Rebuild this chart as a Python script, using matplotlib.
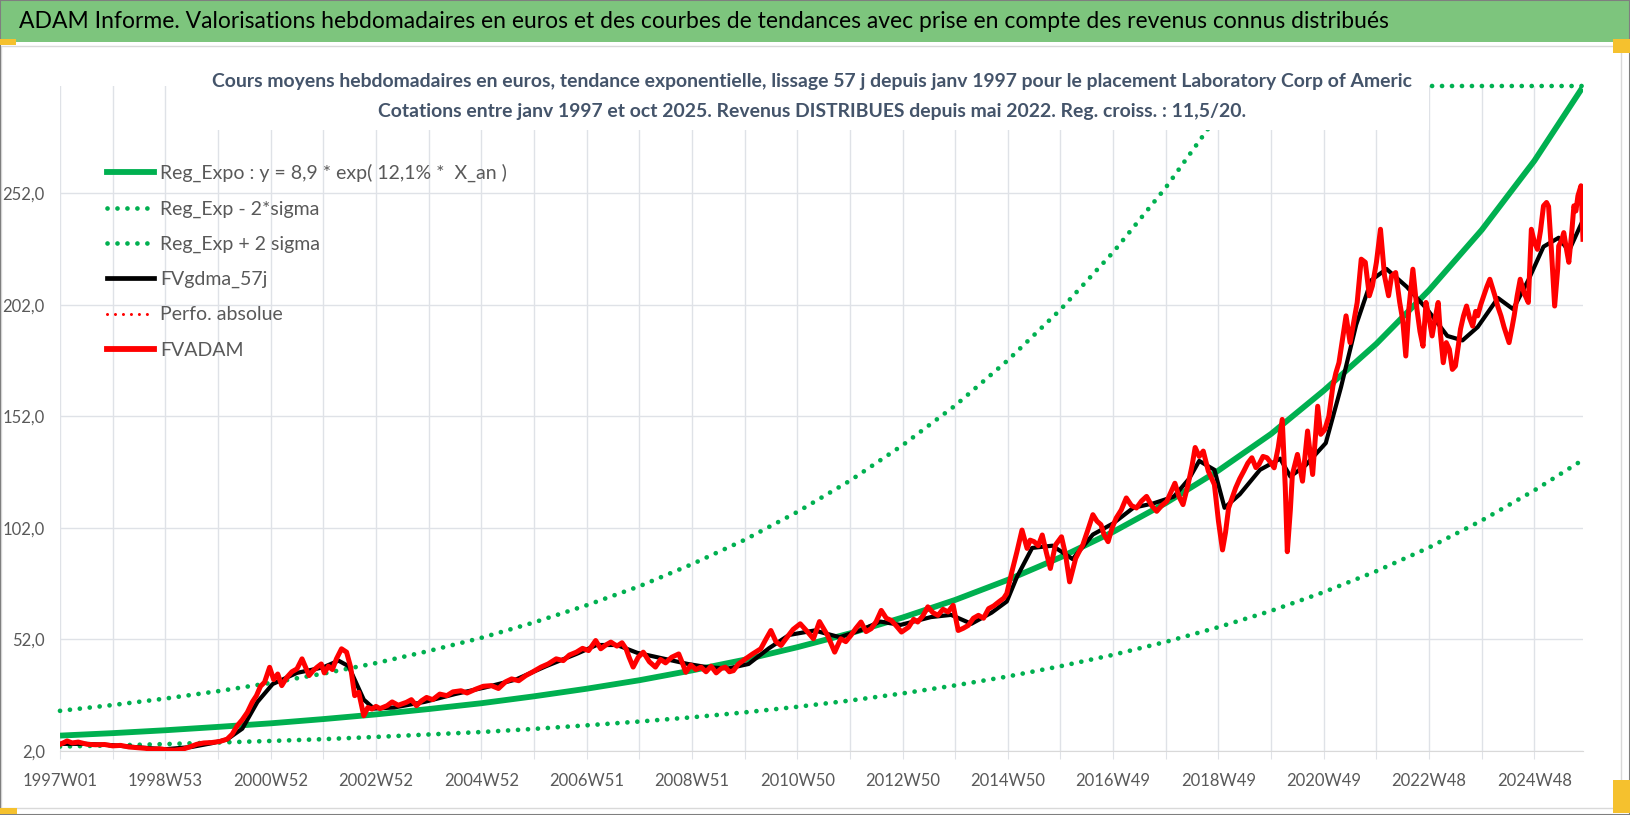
import numpy as np
import matplotlib
matplotlib.use("Agg")
import matplotlib.pyplot as plt
import matplotlib.patches as patches
from matplotlib.lines import Line2D

# ---- data ----
title = ("ADAM Informe. Valorisations hebdomadaires en euros et des courbes de "
         "tendances avec prise en compte des revenus connus distribués")
subtitle_1 = ("Cours moyens hebdomadaires en euros, tendance exponentielle, lissage 57 j "
              "depuis janv 1997 pour le placement Laboratory Corp of Americ")
subtitle_2 = ("Cotations entre janv 1997 et oct 2025. Revenus DISTRIBUES depuis mai 2022. "
              "Reg. croiss. : 11,5/20.")

week_labels = ["1997W01", "1998W53", "2000W52", "2002W52", "2004W52", "2006W51",
               "2008W51", "2010W50", "2012W50", "2014W50", "2016W49", "2018W49",
               "2020W49", "2022W48", "2024W48"]
last_week = 1504

# trend curves, one value per year (week 0, 52, ...), last one at the final week
reg_expo = [8.9, 10.0, 11.3, 12.8, 14.4, 16.3, 18.4, 20.8, 23.4, 26.5, 29.9, 33.7,
            38.1, 42.9, 48.5, 54.7, 61.8, 69.7, 78.7, 88.8, 100.2, 113.1, 127.7,
            144.1, 163.5, 184.5, 208.5, 235.5, 266.5, 299.0]
reg_low = [4.0, 4.5, 5.1, 5.8, 6.5, 7.3, 8.3, 9.4, 10.5, 11.9, 13.5, 15.2, 17.1,
           19.3, 21.8, 24.6, 27.8, 31.4, 35.4, 40.0, 45.1, 50.9, 57.5, 64.8, 73.2,
           82.6, 93.2, 105.3, 118.8, 132.2]
reg_high = [20.0, 22.6, 25.5, 28.8, 32.5, 36.7, 41.4, 46.8, 52.7, 59.6, 67.3, 75.8,
            85.7, 96.6, 109.1, 123.1, 139.0, 156.8, 177.1, 199.8, 225.5, 254.5,
            287.3, 300, 300, 300, 300, 300, 300, 300]

# FVADAM weekly price (week index, value)
fv_week = [0, 4, 7, 12, 18, 27, 35, 44, 52, 60, 68, 76, 84, 91, 98, 106, 113, 121,
           128, 135, 142, 150, 158, 165, 170, 175, 180, 185, 190, 194, 198, 202, 207,
           211, 215, 219, 224, 229, 234, 239, 243, 246, 250, 254, 258, 261, 265, 269,
           273, 278, 283, 287, 291, 295, 300, 304, 308, 312, 316, 323, 328, 334, 342,
           347, 352, 357, 362, 368, 375, 382, 388, 396, 402, 411, 418, 426, 433, 440,
           446, 453, 460, 467, 475, 482, 490, 497, 503, 510, 516, 522, 529, 534, 539,
           544, 550, 555, 559, 562, 566, 571, 576, 582, 588, 593, 598, 604, 611, 615,
           618, 623, 628, 633, 638, 643, 648, 653, 657, 661, 665, 670, 677, 684, 692,
           697, 702, 707, 712, 718, 724, 731, 738, 744, 750, 758, 765, 771, 776, 781,
           786, 791, 796, 801, 806, 811, 816, 821, 826, 831, 838, 843, 847, 852, 857,
           862, 867, 872, 877, 882, 887, 892, 897, 902, 907, 912, 917, 922, 927, 932,
           935, 940, 945, 950, 955, 958, 962, 966, 970, 974, 978, 983, 989, 993, 997,
           1003, 1006, 1010, 1015, 1020, 1024, 1028, 1031, 1035, 1039, 1043, 1048,
           1053, 1058, 1063, 1068, 1073, 1078, 1083, 1088, 1093, 1097, 1101, 1105,
           1109, 1114, 1118, 1121, 1125, 1129, 1134, 1140, 1144, 1148, 1151, 1154,
           1158, 1161, 1165, 1169, 1173, 1177, 1181, 1184, 1188, 1192, 1196, 1199,
           1203, 1207, 1210, 1212, 1215, 1217, 1222, 1227, 1232, 1237, 1242, 1245,
           1249, 1253, 1257, 1260, 1263, 1266, 1270, 1274, 1278, 1281, 1285, 1289,
           1293, 1296, 1300, 1304, 1308, 1312, 1315, 1319, 1323, 1326, 1329, 1332,
           1336, 1340, 1343, 1346, 1349, 1352, 1355, 1358, 1361, 1363, 1366, 1369,
           1372, 1375, 1378, 1381, 1383, 1386, 1389, 1392, 1395, 1398, 1400, 1403,
           1406, 1409, 1412, 1415, 1417, 1420, 1423, 1426, 1431, 1434, 1436, 1439,
           1442, 1446, 1450, 1453, 1456, 1459, 1462, 1465, 1468, 1470, 1473, 1476,
           1479, 1480, 1483, 1485, 1488, 1490, 1493, 1495, 1497, 1499, 1502, 1504]
fv_value = [5.0, 5.8, 6.5, 5.6, 6.0, 5.0, 4.8, 4.9, 4.3, 4.5, 3.8, 3.5, 3.2, 2.8, 3.0,
            2.5, 2.4, 2.8, 3.8, 5.0, 5.6, 5.8, 6.3, 7.3, 9.5, 13.3, 16.0, 19.3, 24.0,
            26.8, 31.0, 32.8, 39.5, 34.0, 36.5, 31.3, 35.0, 37.5, 38.8, 43.3, 39.0,
            35.8, 38.0, 39.6, 41.0, 37.0, 40.0, 38.5, 43.3, 47.8, 46.3, 39.6, 26.8,
            28.3, 17.8, 21.5, 20.8, 22.0, 21.0, 22.3, 24.0, 22.5, 23.8, 25.0, 22.3,
            24.5, 26.0, 25.0, 27.5, 26.8, 28.5, 29.0, 28.0, 29.8, 31.0, 31.3, 30.0,
            33.0, 34.3, 33.5, 35.8, 37.5, 39.6, 41.0, 43.3, 42.5, 45.0, 46.3, 48.0,
            47.0, 51.5, 47.8, 49.5, 50.8, 49.0, 50.5, 47.8, 44.0, 39.6, 44.0, 46.3,
            42.0, 39.6, 43.0, 41.5, 44.0, 45.5, 41.0, 37.3, 40.5, 38.5, 39.6, 37.5,
            40.0, 37.0, 39.0, 39.6, 37.5, 38.0, 41.0, 43.3, 45.5, 47.8, 52.0, 56.0,
            51.0, 49.3, 53.0, 56.5, 59.0, 55.5, 52.3, 60.0, 53.8, 46.3, 52.3, 51.0,
            53.8, 57.0, 59.8, 55.5, 56.8, 60.0, 65.0, 61.5, 60.5, 58.0, 55.3, 57.5,
            61.0, 59.8, 62.5, 66.6, 64.0, 62.8, 65.5, 64.3, 67.3, 56.0, 57.0, 58.3,
            61.5, 62.8, 61.5, 65.8, 67.0, 68.8, 70.5, 72.6, 82.3, 91.3, 101.0, 92.8,
            96.5, 95.8, 94.0, 98.8, 91.0, 83.8, 94.3, 98.0, 90.0, 77.8, 88.3, 91.0,
            94.3, 101.0, 107.9, 105.0, 103.4, 99.0, 95.8, 102.0, 106.4, 110.0, 115.4,
            112.0, 110.9, 114.0, 116.1, 112.0, 109.4, 112.0, 113.9, 118.0, 122.0,
            116.0, 112.4, 121.4, 130.0, 138.0, 134.0, 136.4, 127.4, 121.4, 105.0,
            92.1, 100.0, 110.9, 116.0, 119.9, 124.0, 127.4, 131.0, 133.4, 129.0,
            130.4, 134.0, 133.4, 131.0, 128.9, 138.0, 150.6, 120.0, 91.3, 110.0,
            125.9, 134.9, 122.9, 145.4, 125.9, 156.5, 143.9, 146.0, 152.0, 165.5,
            171.5, 176.0, 185.0, 197.0, 185.0, 195.4, 203.0, 222.4, 221.0, 206.0,
            210.4, 221.0, 235.8, 214.9, 206.0, 214.9, 216.4, 203.0, 195.0, 179.0,
            200.0, 217.9, 200.0, 190.0, 183.4, 203.0, 196.0, 188.0, 196.0, 203.0,
            190.0, 176.0, 185.0, 182.0, 173.0, 174.5, 184.0, 191.0, 197.0, 201.4,
            196.0, 192.4, 199.0, 197.0, 202.0, 206.0, 210.0, 213.4, 209.0, 206.0,
            201.0, 197.0, 192.0, 185.0, 192.0, 197.0, 206.0, 213.4, 207.0, 203.0,
            235.8, 230.0, 226.8, 235.0, 246.3, 247.8, 246.0, 225.0, 201.4, 218.0,
            228.3, 231.0, 234.3, 226.0, 221.0, 235.0, 246.3, 244.0, 250.8, 255.3,
            231.3]

# FVgdma_57j smoothed line (week index, value)
gdma_week = [0, 26, 52, 78, 104, 130, 150, 165, 180, 195, 210, 234, 260, 275, 285,
             292, 300, 310, 330, 360, 390, 420, 450, 480, 510, 530, 550, 570, 600,
             620, 640, 660, 680, 700, 720, 745, 770, 790, 810, 830, 860, 880, 900,
             920, 935, 945, 960, 980, 1000, 1020, 1040, 1060, 1080, 1100, 1115, 1125,
             1140, 1150, 1165, 1185, 1205, 1215, 1230, 1250, 1265, 1280, 1295, 1310,
             1330, 1350, 1370, 1385, 1400, 1420, 1435, 1450, 1465, 1480, 1490, 1504]
gdma_value = [5.2, 5.2, 4.6, 3.6, 2.8, 3.8, 5.5, 7.2, 12.0, 24.0, 32.0, 37.0, 39.5,
              42.5, 40.0, 33.0, 25.0, 21.0, 21.5, 24.0, 27.5, 30.5, 34.0, 40.0, 45.5,
              49.5, 49.5, 46.0, 43.0, 41.0, 39.5, 39.0, 41.0, 48.0, 54.0, 56.0, 53.0,
              56.0, 60.0, 58.5, 62.0, 63.0, 59.0, 64.0, 69.0, 80.0, 93.0, 94.0, 88.0,
              99.0, 104.0, 111.0, 113.0, 116.0, 124.0, 132.0, 128.0, 111.0, 117.0,
              128.0, 133.0, 125.0, 130.0, 140.0, 165.0, 193.0, 213.0, 218.0, 210.0,
              200.0, 188.0, 186.0, 192.0, 205.0, 200.0, 213.0, 228.0, 232.0, 226.0,
              240.0]

# ---- style ----
plt.rcParams["font.family"] = ["Lato", "DejaVu Sans"]

GREEN = "#00b050"
GRID = "#dfe2e7"
TXT = "#595959"
W, H = 1630, 815

fig = plt.figure(figsize=(W / 100, H / 100), dpi=100)
fig.patch.set_facecolor("white")
renderer = fig.canvas.get_renderer()


def fit_width(txt, target_px):
    # scale the font so the text spans the same width as in the reference
    w = txt.get_window_extent(renderer).width
    txt.set_fontsize(txt.get_fontsize() * target_px / w)
    return txt.get_fontsize()


# title bar and frame
fig.add_artist(patches.Rectangle((0, 1 - 42 / H), 1, 42 / H, transform=fig.transFigure,
                                 facecolor="#7dc57d", edgecolor="none", zorder=0))
fig.add_artist(patches.Rectangle((1 / W, 1 - 808 / H), 1620 / W, 762 / H,
                                 transform=fig.transFigure, facecolor="none",
                                 edgecolor="#d9d9d9", lw=1, zorder=0))
fig.add_artist(patches.Rectangle((0, 0), 1, 1, transform=fig.transFigure,
                                 facecolor="none", edgecolor="#7f7f7f", lw=1.5, zorder=5))
for (x0, y0, w, h) in [(0, 39, 16, 6), (1613, 39, 17, 14), (0, 808, 17, 6), (1613, 780, 17, 33)]:
    fig.add_artist(patches.Rectangle((x0 / W, 1 - (y0 + h) / H), w / W, h / H,
                                     transform=fig.transFigure, facecolor="#f5c12e",
                                     edgecolor="none", zorder=6))
t_title = fig.text(19 / W, 1 - 22 / H, title, fontsize=17, color="black",
                   ha="left", va="center")
fit_width(t_title, 1367)

ax = fig.add_axes([60 / W, (H - 751) / H, 1523 / W, 665 / H])
ax.set_xlim(0, last_week)
ax.set_ylim(2, 300)

trend_week = list(np.arange(len(reg_expo) - 1) * 52) + [last_week - 1]

dot = (0, (0.01, 2.1))
ax.plot(trend_week, reg_low, color=GREEN, lw=3.4, linestyle=dot, dash_capstyle="round", zorder=2)
ax.plot(trend_week, reg_high, color=GREEN, lw=3.4, linestyle=dot, dash_capstyle="round",
        zorder=2, clip_on=False)
ax.plot(trend_week, reg_expo, color=GREEN, lw=4.2, solid_capstyle="butt", zorder=3)
ax.plot(gdma_week, gdma_value, color="black", lw=3, zorder=4)
ax.plot(fv_week, fv_value, color="#ff0000", lw=3.6, solid_joinstyle="round", zorder=5)

# axes
grid_weeks = np.arange(0, last_week - 40, 52)
ax.set_xticks(grid_weeks)
ax.set_xticklabels([week_labels[i // 2] if i % 2 == 0 else "" for i in range(len(grid_weeks))])
yt = np.arange(2, 253, 50)
ax.set_yticks(yt)
ax.set_yticklabels([f"{v:.1f}".replace(".", ",") for v in yt])
ax.grid(True, color=GRID, lw=1)
ax.set_axisbelow(True)
for s in ["top", "right", "left"]:
    ax.spines[s].set_visible(False)
ax.spines["bottom"].set_color("#d9d9d9")
ax.tick_params(axis="x", length=6, color=GRID, labelsize=12, labelcolor=TXT, pad=10)
ax.tick_params(axis="y", length=0, labelsize=12, labelcolor=TXT, pad=11)

# legend
handles = [
    Line2D([], [], color=GREEN, lw=4.2),
    Line2D([], [], color=GREEN, lw=3.4, linestyle=dot, dash_capstyle="round"),
    Line2D([], [], color=GREEN, lw=3.4, linestyle=dot, dash_capstyle="round"),
    Line2D([], [], color="black", lw=3.4),
    Line2D([], [], color="#ff0000", lw=2.2, linestyle=(0, (0.01, 2.6)), dash_capstyle="round"),
    Line2D([], [], color="#ff0000", lw=4.2),
]
labels = ["Reg_Expo : y = 8,9 * exp( 12,1% *  X_an )", "Reg_Exp - 2*sigma",
          "Reg_Exp + 2 sigma", "FVgdma_57j", "Perfo. absolue", "FVADAM"]
leg = ax.legend(handles, labels, loc="upper left", bbox_to_anchor=(107 / W, 1 - 164 / H),
                bbox_transform=fig.transFigure, frameon=False, fontsize=14,
                handlelength=2.42, handletextpad=0.32, labelspacing=0.93,
                borderpad=0, borderaxespad=0)
for t in leg.get_texts():
    t.set_color(TXT)

# subtitle box over the top of the plot
fig.add_artist(patches.Rectangle((192 / W, 1 - 130 / H), (1429 - 192) / W, 75 / H,
                                 transform=fig.transFigure, facecolor="white",
                                 edgecolor="none", zorder=2))
t_sub1 = fig.text(812 / W, 1 - 81 / H, subtitle_1, fontsize=14, fontweight="bold",
                  color="#44546a", ha="center", va="center", zorder=3)
fs = fit_width(t_sub1, 1210)
fig.text(812 / W, 1 - 112 / H, subtitle_2, fontsize=fs, fontweight="bold",
         color="#44546a", ha="center", va="center", zorder=3)

fig.savefig("out.png", dpi=100)
